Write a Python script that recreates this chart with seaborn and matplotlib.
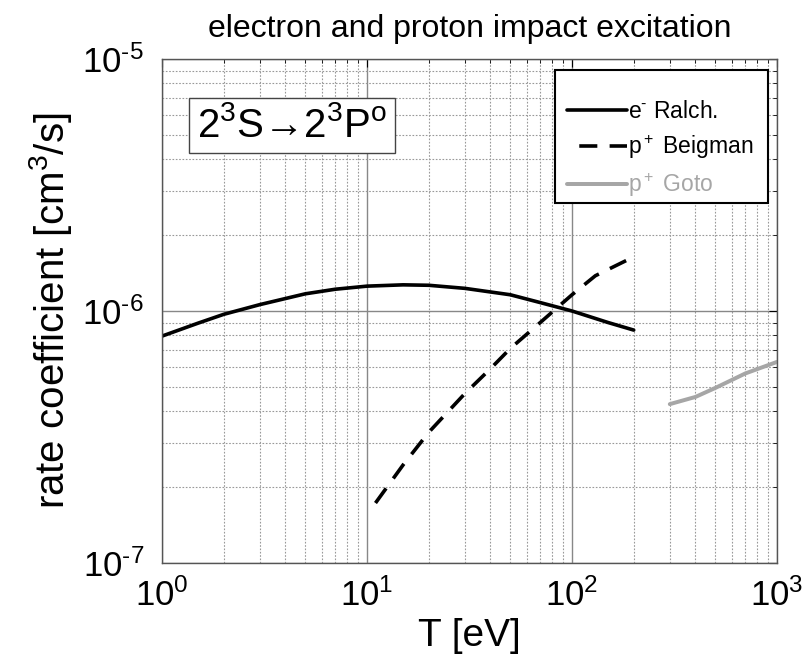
import numpy as np
import pandas as pd
import matplotlib
matplotlib.use("Agg")
import matplotlib.pyplot as plt
import seaborn as sns
from matplotlib.lines import Line2D
from matplotlib.patches import Rectangle
from matplotlib.ticker import LogLocator, NullFormatter, FuncFormatter

# Electron impact (Ralchenko) rate coefficient
T_ralch = [1, 1.5, 2, 3, 5, 7, 10, 15, 20, 30, 50, 70, 100, 150, 200]
k_ralch = [7.95e-7, 8.95e-7, 9.7e-7, 1.06e-6, 1.17e-6, 1.22e-6, 1.255e-6,
           1.27e-6, 1.265e-6, 1.23e-6, 1.16e-6, 1.08e-6, 1.0e-6, 9.0e-7, 8.4e-7]

# Proton impact (Beigman)
T_beig = [11, 15, 20, 30, 40, 50, 70, 100, 130, 160, 200]
k_beig = [1.73e-7, 2.45e-7, 3.3e-7, 4.7e-7, 5.9e-7, 7.1e-7, 9.0e-7,
          1.16e-6, 1.38e-6, 1.5e-6, 1.64e-6]

# Proton impact (Goto)
T_goto = [300, 400, 500, 700, 1000]
k_goto = [4.27e-7, 4.56e-7, 4.95e-7, 5.65e-7, 6.28e-7]

x_ticks = [1, 10, 100, 1000]
y_ticks = [1e-7, 1e-6, 1e-5]
labels = [r"e$^{\text{-}}$ Ralch.", r"p$^+$ Beigman", r"p$^+$ Goto"]

sns.set_style("white")
plt.rcParams["font.family"] = ["Liberation Sans", "DejaVu Sans"]
plt.rcParams["mathtext.fontset"] = "custom"
plt.rcParams["mathtext.rm"] = "Liberation Sans"
plt.rcParams["mathtext.it"] = "Liberation Sans"
plt.rcParams["mathtext.default"] = "regular"
plt.rcParams["text.color"] = "black"
plt.rcParams["axes.labelcolor"] = "black"

fig = plt.figure(figsize=(8.08, 6.66), dpi=100)
ax = fig.add_axes([162 / 808, 1 - 563 / 666, 615 / 808, 504 / 666])

df_r = pd.DataFrame({"T": T_ralch, "k": k_ralch})
df_b = pd.DataFrame({"T": T_beig, "k": k_beig})
df_g = pd.DataFrame({"T": T_goto, "k": k_goto})

lw = 2.6
grey = "#a6a6a6"
dash = (5, 3.4)
sns.lineplot(data=df_r, x="T", y="k", ax=ax, color="black", lw=lw, legend=False)
sns.lineplot(data=df_b, x="T", y="k", ax=ax, color="black", lw=lw,
             linestyle=(0, dash), legend=False)
sns.lineplot(data=df_g, x="T", y="k", ax=ax, color=grey, lw=lw * 1.1,
             legend=False)

ax.set_xscale("log")
ax.set_yscale("log")
ax.set_xlim(1, 1000)
ax.set_ylim(1e-7, 1e-5)
ax.set_xticks(x_ticks)
ax.set_yticks(y_ticks)


def pow10(v, _pos):
    e = int(round(np.log10(v)))
    s = r"\text{-}" + str(-e) if e < 0 else str(e)
    return r"10$^{" + s + "}$"


ax.xaxis.set_major_formatter(FuncFormatter(pow10))
ax.yaxis.set_major_formatter(FuncFormatter(pow10))
ax.xaxis.set_minor_locator(LogLocator(base=10, subs=np.arange(2, 10)))
ax.yaxis.set_minor_locator(LogLocator(base=10, subs=np.arange(2, 10)))
ax.xaxis.set_minor_formatter(NullFormatter())
ax.yaxis.set_minor_formatter(NullFormatter())

ax.grid(True, which="major", color="#888888", lw=1.0, ls="-")
ax.grid(True, which="minor", color="#999999", lw=0.8, ls=(0, (1.5, 1.5)))
ax.set_axisbelow(True)

ax.tick_params(which="both", direction="in", top=True, right=True,
               colors="black", labelsize=25)
ax.tick_params(axis="y", pad=13)
ax.tick_params(axis="x", pad=11)
ax.tick_params(which="major", length=6, width=0.8)
ax.tick_params(which="minor", length=3, width=0.6)
for s in ax.spines.values():
    s.set_color("#555555")
    s.set_linewidth(1.0)

ax.set_xlabel("T [eV]", fontsize=28, labelpad=4)
ax.set_ylabel(r"rate coefficient [cm$^3$/s]", fontsize=29, labelpad=6)
ax.set_title("electron and proton impact excitation", fontsize=23, pad=16)

ax.text(0.0569, 0.829, "2$^3$S\u21922$^3$P$^o$", transform=ax.transAxes,
        fontsize=29, va="bottom", ha="left",
        bbox=dict(boxstyle="square,pad=0.2", fc="white", ec="#444444", lw=1.0))

# legend frame drawn separately so the padding can be uneven
ax.add_patch(Rectangle((0.639, 0.7143), 0.9854 - 0.639, 0.978 - 0.7143,
                       transform=ax.transAxes, fc="white", ec="black",
                       lw=1.5, zorder=4.5))
handles = [
    Line2D([], [], color="black", lw=lw),
    Line2D([], [], color="black", lw=lw, linestyle=(dash[0], dash)),
    Line2D([], [], color=grey, lw=lw * 1.1),
]
leg = ax.legend(handles, labels, loc="upper left",
                bbox_to_anchor=(0.6585, 0.9177), fontsize=16.5,
                handlelength=2.6, handletextpad=0.05, labelspacing=0.43,
                borderpad=0.0, borderaxespad=0.0, frameon=False)
leg.set_zorder(5)
for txt, line in zip(leg.get_texts(), leg.get_lines()):
    txt.set_color(line.get_color())

fig.savefig("out.png", dpi=100)
